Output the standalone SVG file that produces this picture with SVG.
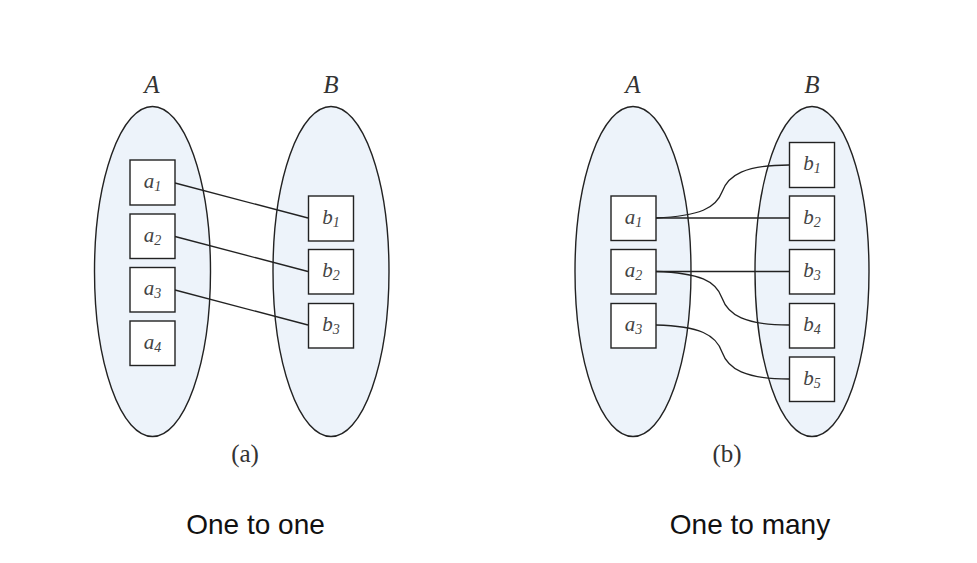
<svg xmlns="http://www.w3.org/2000/svg" width="977" height="563" viewBox="0 0 977 563">
<style>
.set{fill:#edf3fa;stroke:#222;stroke-width:1.4}
.box{fill:#fff;stroke:#222;stroke-width:1.4}
.lbl{font-family:"Liberation Serif","DejaVu Serif",serif;font-style:italic;font-size:21px;fill:#444;text-anchor:middle}
.sub{font-size:14px}
.hd{font-family:"Liberation Serif","DejaVu Serif",serif;font-style:italic;font-size:25px;fill:#333;text-anchor:middle}
.cap{font-family:"Liberation Serif","DejaVu Serif",serif;font-size:25px;fill:#333;text-anchor:middle}
.title{font-family:"Liberation Sans",Arial,sans-serif;font-size:28px;fill:#111;text-anchor:middle}
.conn path,.conn line{fill:none;stroke:#222;stroke-width:1.3}
</style>
<rect width="977" height="563" fill="#fff"/>
<!-- Diagram (a) -->
<g id="setA1"><ellipse class="set" cx="152.5" cy="271.5" rx="58" ry="165"/><text class="hd" x="152" y="93">A</text></g>
<g id="setB1"><ellipse class="set" cx="331" cy="271.5" rx="58" ry="165"/><text class="hd" x="331" y="93">B</text></g>
<g class="conn" id="conn-a">
<line x1="175" y1="183" x2="308" y2="218"/>
<line x1="175" y1="236.5" x2="308" y2="271.5"/>
<line x1="175" y1="290" x2="308" y2="325"/>
</g>
<g id="a1L"><rect class="box" x="130" y="160" width="45" height="45"/><text class="lbl" x="152.5" y="188">a<tspan class="sub" dy="3">1</tspan></text></g>
<g id="a2L"><rect class="box" x="130" y="214" width="45" height="44.5"/><text class="lbl" x="152.5" y="242">a<tspan class="sub" dy="3">2</tspan></text></g>
<g id="a3L"><rect class="box" x="130" y="267.5" width="45" height="44.5"/><text class="lbl" x="152.5" y="295">a<tspan class="sub" dy="3">3</tspan></text></g>
<g id="a4L"><rect class="box" x="130" y="321" width="45" height="44.5"/><text class="lbl" x="152.5" y="349">a<tspan class="sub" dy="3">4</tspan></text></g>
<g id="b1L"><rect class="box" x="308.5" y="196" width="45" height="45"/><text class="lbl" x="331" y="224">b<tspan class="sub" dy="3">1</tspan></text></g>
<g id="b2L"><rect class="box" x="308.5" y="249.5" width="45" height="44.5"/><text class="lbl" x="331" y="277">b<tspan class="sub" dy="3">2</tspan></text></g>
<g id="b3L"><rect class="box" x="308.5" y="303.5" width="45" height="44.5"/><text class="lbl" x="331" y="331">b<tspan class="sub" dy="3">3</tspan></text></g>
<text class="cap" x="245" y="462">(a)</text>
<!-- Diagram (b) -->
<g id="setA2"><ellipse class="set" cx="633" cy="271.5" rx="58" ry="165"/><text class="hd" x="633" y="93">A</text></g>
<g id="setB2"><ellipse class="set" cx="812" cy="271.5" rx="57" ry="165"/><text class="hd" x="812" y="93">B</text></g>
<g class="conn" id="conn-b">
<path d="M656,218 C700,216 716,208 722,192 C728,175 745,165 789,165"/>
<line x1="656" y1="218" x2="789" y2="218"/>
<line x1="656" y1="271.5" x2="789" y2="271.5"/>
<path d="M656,271.5 C700,273 716,281 722,298 C728,315 745,325 789,325"/>
<path d="M656,325 C700,326 716,335 722,352 C728,369 745,379 789,379"/>
</g>
<g id="a1R"><rect class="box" x="611" y="196" width="45" height="44.5"/><text class="lbl" x="633.5" y="224">a<tspan class="sub" dy="3">1</tspan></text></g>
<g id="a2R"><rect class="box" x="611" y="249.5" width="45" height="44.5"/><text class="lbl" x="633.5" y="277">a<tspan class="sub" dy="3">2</tspan></text></g>
<g id="a3R"><rect class="box" x="611" y="303.5" width="45" height="44.5"/><text class="lbl" x="633.5" y="331">a<tspan class="sub" dy="3">3</tspan></text></g>
<g id="b1R"><rect class="box" x="789.5" y="142.5" width="45" height="45"/><text class="lbl" x="812" y="170">b<tspan class="sub" dy="3">1</tspan></text></g>
<g id="b2R"><rect class="box" x="789.5" y="196" width="45" height="44.5"/><text class="lbl" x="812" y="224">b<tspan class="sub" dy="3">2</tspan></text></g>
<g id="b3R"><rect class="box" x="789.5" y="249.5" width="45" height="44.5"/><text class="lbl" x="812" y="277">b<tspan class="sub" dy="3">3</tspan></text></g>
<g id="b4R"><rect class="box" x="789.5" y="303.5" width="45" height="44.5"/><text class="lbl" x="812" y="331">b<tspan class="sub" dy="3">4</tspan></text></g>
<g id="b5R"><rect class="box" x="789.5" y="357" width="45" height="44.5"/><text class="lbl" x="812" y="385">b<tspan class="sub" dy="3">5</tspan></text></g>
<text class="cap" x="727" y="462">(b)</text>
<text class="title" x="255.5" y="534">One to one</text>
<text class="title" x="750" y="534">One to many</text>
</svg>
